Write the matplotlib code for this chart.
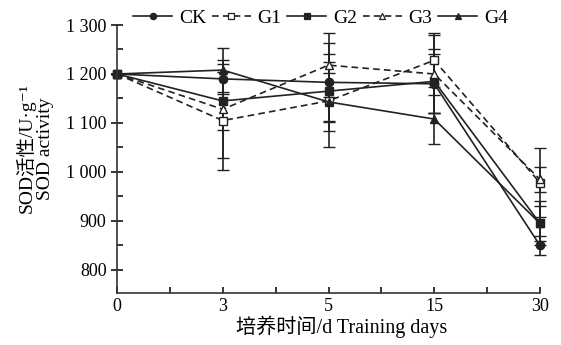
import matplotlib
matplotlib.use("Agg")
import matplotlib.pyplot as plt
from matplotlib.lines import Line2D
from matplotlib.ticker import FixedLocator, MultipleLocator, FuncFormatter

plt.rcParams["font.family"] = ["Liberation Serif", "Noto Sans CJK SC", "DejaVu Sans"]
plt.rcParams["font.size"] = 12

days = ["0", "3", "5", "15", "30"]

ck = [1200, 1190, 1183, 1180, 850]
g1 = [1200, 1105, 1145, 1228, 978]
g2 = [1200, 1145, 1165, 1185, 895]
g3 = [1200, 1128, 1218, 1200, 985]
g4 = [1200, 1208, 1143, 1108, 895]

ck_err = [0, 30, 80, 60, 20]
g1_err = [0, 100, 95, 55, 70]
g2_err = [0, 60, 60, 65, 35]
g3_err = [0, 100, 65, 80, 25]
g4_err = [0, 45, 60, 50, 45]

dash = (0, (4, 2.5))
series = [
    ("CK", ck, ck_err, "-", "o", "#222222"),
    ("G1", g1, g1_err, dash, "s", "white"),
    ("G2", g2, g2_err, "-", "s", "#222222"),
    ("G3", g3, g3_err, dash, "^", "white"),
    ("G4", g4, g4_err, "-", "^", "#222222"),
]

fig = plt.figure(figsize=(5.61, 3.45), dpi=100)
ax = fig.add_axes([117 / 561, 1 - 293 / 345, (540 - 117) / 561, (293 - 25) / 345])

x = list(range(len(days)))
handles = []
for name, vals, errs, ls, mk, mfc in series:
    ax.errorbar(x, vals, yerr=errs, color="#222222", linestyle=ls, linewidth=1.2,
                marker=mk, markersize=6, markerfacecolor=mfc, markeredgecolor="#222222",
                markeredgewidth=1.0, ecolor="#222222", elinewidth=1.2, capsize=4.5,
                capthick=1.2, clip_on=False)
    handles.append(Line2D([], [], color="#222222", linestyle=ls, linewidth=1.2,
                          marker=mk, markersize=4.5, markerfacecolor=mfc,
                          markeredgecolor="#222222", markeredgewidth=0.9, label=name))

ax.set_xlim(0, 4)
ax.set_ylim(753, 1300)
ax.set_xticks(x)
ax.set_xticklabels(days)
ax.xaxis.set_minor_locator(FixedLocator([0.5, 1.5, 2.5, 3.5]))
ax.yaxis.set_major_locator(MultipleLocator(100))
ax.yaxis.set_minor_locator(MultipleLocator(50))
ax.yaxis.set_major_formatter(FuncFormatter(
    lambda v, p: f"{int(v):,}".replace(",", " ")))

ax.spines["top"].set_visible(False)
ax.spines["right"].set_visible(False)
for s in ["left", "bottom"]:
    ax.spines[s].set_linewidth(1.2)
    ax.spines[s].set_color("#333333")

ax.tick_params(axis="y", which="major", direction="inout", length=8, width=1.1, labelsize=13)
ax.tick_params(axis="y", which="minor", direction="in", length=4, width=1.1)
ax.tick_params(axis="x", which="both", direction="in", length=4, width=1.1, labelsize=13)

ax.set_xlabel("培养时间/d Training days", fontsize=14.5, labelpad=2)
ax.xaxis.set_label_coords(0.532, -0.085)
ax.set_ylabel("SOD活性/U·g⁻¹\nSOD activity", fontsize=14, linespacing=1.05)
ax.yaxis.set_label_coords(-0.15, 0.54)

ax.legend(handles=handles, loc="upper left", bbox_to_anchor=(0.038, 1.06), ncol=5,
          frameon=False, fontsize=14, handlelength=2.0, handletextpad=0.35,
          columnspacing=0.3, borderpad=0, borderaxespad=0)

fig.savefig("out.png", dpi=100)
